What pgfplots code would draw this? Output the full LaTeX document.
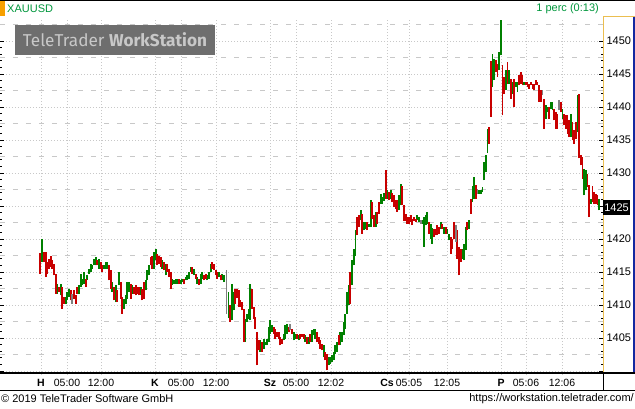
\documentclass[border=0pt]{standalone}
\usepackage{pgfplots}
\pgfplotsset{compat=1.18}
\usepackage{pgfplotstable}
\usepackage{fontspec}
\setmainfont{Liberation Sans}
\newfontfamily\wmfont{Fira Sans}
\definecolor{cgreen}{RGB}{0,128,0}
\definecolor{cred}{RGB}{200,0,0}
\definecolor{cgray}{RGB}{128,128,128}
\definecolor{gridc}{RGB}{200,200,200}
\definecolor{tgreen}{RGB}{0,150,60}
\definecolor{orng}{RGB}{247,160,0}
\definecolor{pyell}{RGB}{235,190,80}
\definecolor{pblue}{RGB}{20,40,160}
\definecolor{wmbox}{RGB}{110,110,110}
\definecolor{wmtext}{RGB}{200,200,200}

\pgfplotstableread{
x lo hi
41.7 1416.52 1419.95
57.3 1411.71 1413.23
60.7 1411.46 1413.23
65.7 1410.2 1411.21
67.3 1410.7 1411.97
69.0 1411.21 1412.47
79.0 1411.71 1413.0
80.7 1412.73 1414.75
82.3 1413.0 1414.0
84.0 1413.23 1415.0
87.3 1413.74 1414.5
89.0 1414.75 1415.5
90.7 1415.0 1416.26
92.3 1415.5 1416.0
94.0 1416.0 1417.0
95.7 1416.0 1417.27
99.0 1415.5 1417.0
104.0 1415.5 1416.0
105.7 1415.5 1416.52
107.3 1415.5 1416.52
112.3 1411.97 1413.48
115.7 1410.45 1413.0
119.0 1413.0 1415.0
124.0 1409.44 1410.95
125.7 1410.2 1411.46
127.3 1410.95 1413.48
129.0 1411.97 1413.48
132.3 1411.71 1413.0
140.7 1411.46 1412.73
145.7 1412.22 1413.74
147.3 1413.74 1415.25
149.0 1414.5 1416.0
154.0 1415.5 1418.03
155.7 1416.77 1418.5
162.3 1415.5 1416.77
165.7 1414.5 1416.26
172.3 1413.0 1414.0
174.0 1413.23 1413.74
175.7 1413.23 1414.0
177.3 1413.23 1414.0
180.7 1413.23 1413.74
182.3 1413.48 1414.0
185.7 1413.74 1414.24
187.3 1413.74 1414.5
189.0 1414.0 1415.0
190.7 1415.0 1415.76
194.0 1414.5 1415.5
197.3 1413.23 1414.24
200.7 1413.23 1414.75
202.3 1414.0 1415.0
207.3 1413.74 1414.5
209.0 1414.0 1415.0
210.7 1415.0 1416.26
219.0 1414.24 1415.0
222.3 1413.74 1414.75
224.0 1413.48 1414.5
228.5 1408.0 1412.0
232.0 1407.68 1413.23
233.7 1409.2 1411.97
245.3 1404.39 1407.93
247.0 1407.4 1408.7
248.7 1407.93 1409.44
250.3 1407.68 1413.23
260.3 1402.88 1404.65
263.7 1403.38 1404.9
265.3 1403.88 1404.39
267.0 1403.88 1404.9
268.7 1404.39 1406.67
270.3 1405.65 1407.68
272.0 1405.91 1406.92
283.7 1404.65 1405.65
285.3 1404.9 1406.92
287.0 1405.65 1407.17
293.7 1404.65 1405.91
295.3 1404.9 1405.65
298.7 1404.65 1405.4
305.3 1404.39 1405.4
308.7 1404.14 1405.15
312.0 1404.39 1406.16
313.7 1405.4 1406.41
315.3 1404.9 1406.41
323.7 1402.12 1403.88
328.7 1400.86 1402.12
330.3 1401.11 1402.12
332.0 1401.36 1402.37
333.7 1401.62 1402.88
335.3 1402.63 1403.88
337.0 1402.88 1404.39
340.3 1403.88 1405.91
342.0 1404.39 1405.91
343.7 1405.4 1407.42
345.3 1406.41 1408.7
347.0 1408.7 1411.97
348.7 1409.95 1413.0
352.0 1413.0 1416.77
353.7 1416.0 1418.53
355.5 1417.5 1421.3
360.7 1422.83 1424.34
364.0 1421.31 1422.58
365.7 1421.56 1422.58
369.0 1421.82 1422.32
370.7 1421.8 1425.9
375.7 1421.8 1424.1
380.7 1425.35 1426.87
382.3 1425.35 1426.4
384.0 1425.8 1426.9
387.3 1426.1 1427.4
390.7 1426.1 1427.4
399.0 1424.34 1426.62
400.7 1425.1 1428.38
417.3 1422.83 1423.59
419.0 1422.58 1423.33
422.3 1422.32 1422.83
424.0 1418.8 1423.33
425.7 1422.07 1423.59
427.3 1422.32 1424.09
430.7 1420.05 1422.3
432.3 1419.3 1421.6
440.7 1421.56 1422.58
444.0 1420.8 1421.82
447.3 1420.8 1421.56
449.0 1419.8 1420.8
462.3 1417.0 1418.5
464.0 1416.77 1419.29
465.7 1418.3 1421.8
469.0 1421.56 1422.83
472.5 1425.6 1428.1
474.2 1426.11 1429.39
479.2 1426.87 1427.37
480.8 1426.87 1427.37
482.5 1427.1 1427.88
484.2 1428.9 1431.67
485.8 1430.15 1432.68
487.5 1433.0 1436.7
492.5 1443.03 1448.08
494.2 1444.04 1447.32
499.2 1445.55 1448.33
500.8 1447.83 1453.2
505.8 1442.53 1445.55
509.2 1443.53 1445.55
512.5 1442.02 1443.79
515.8 1443.03 1443.79
517.5 1442.27 1443.79
524.2 1443.28 1443.79
545.8 1438.23 1440.25
547.5 1439.24 1440.0
550.8 1439.75 1440.76
552.5 1439.5 1440.76
562.5 1438.23 1439.75
570.8 1435.45 1438.99
577.5 1436.2 1441.77
584.2 1426.62 1430.65
585.8 1427.37 1430.4
590.8 1425.35 1426.11
599.2 1424.34 1426.11
}\tgreen

\pgfplotstableread{
x lo hi
40.0 1414.75 1417.9
44.0 1416.52 1418.03
45.7 1414.24 1418.03
47.3 1414.75 1416.52
49.0 1415.5 1417.0
50.7 1415.76 1417.5
52.3 1415.5 1416.77
54.0 1414.5 1416.26
55.7 1411.71 1414.75
59.0 1411.97 1412.73
62.3 1409.44 1412.73
64.0 1410.2 1411.21
70.7 1410.7 1412.22
74.0 1410.95 1412.22
75.7 1410.2 1411.46
77.3 1411.71 1412.73
85.7 1412.73 1414.0
97.3 1416.0 1416.77
100.7 1415.5 1416.52
102.3 1415.0 1416.0
109.0 1413.74 1416.0
110.7 1412.47 1415.25
114.0 1410.7 1412.73
117.3 1410.45 1412.22
120.7 1410.95 1413.48
122.3 1408.7 1411.21
130.7 1410.95 1413.23
134.0 1411.71 1412.73
135.7 1411.46 1413.0
137.3 1411.71 1412.73
139.0 1411.46 1412.73
142.3 1410.7 1412.47
144.0 1410.95 1413.48
150.7 1416.0 1417.27
152.3 1415.5 1417.5
157.3 1416.0 1417.78
159.0 1416.26 1417.5
160.7 1415.76 1417.27
164.0 1415.25 1416.52
167.3 1415.0 1416.26
169.0 1414.24 1415.5
170.7 1412.47 1415.0
179.0 1413.23 1414.0
184.0 1413.23 1414.0
192.3 1414.75 1415.76
195.7 1414.0 1414.75
199.0 1413.0 1414.0
204.0 1413.74 1414.5
205.7 1414.0 1414.75
212.3 1415.5 1416.52
214.0 1415.25 1416.26
215.7 1414.5 1415.25
217.3 1414.0 1415.0
220.7 1413.74 1414.5
230.0 1407.5 1410.0
235.3 1410.2 1412.47
237.0 1411.0 1412.47
238.7 1409.7 1412.22
240.3 1409.7 1410.7
242.0 1409.2 1410.45
243.7 1404.39 1409.44
252.0 1409.44 1412.47
253.7 1407.93 1409.7
255.3 1406.41 1408.18
257.0 1400.86 1405.91
258.7 1403.13 1404.65
262.0 1402.88 1404.39
273.7 1405.65 1406.67
275.3 1404.9 1406.41
277.0 1405.15 1405.91
278.7 1404.9 1405.91
280.3 1403.88 1405.15
282.0 1404.14 1404.9
288.7 1405.91 1406.67
292.0 1405.65 1406.41
297.0 1404.9 1405.65
300.3 1404.9 1405.65
302.0 1405.15 1405.65
303.7 1404.9 1405.65
307.0 1404.14 1405.15
310.3 1404.39 1405.65
317.0 1404.39 1405.91
318.7 1404.14 1405.15
320.3 1403.38 1404.65
322.0 1403.13 1404.14
325.3 1401.62 1402.88
327.0 1400.1 1402.63
338.7 1403.88 1405.4
350.3 1410.2 1415.0
357.3 1420.55 1423.33
359.0 1421.8 1423.59
362.3 1420.8 1423.84
367.3 1421.31 1422.58
372.3 1423.1 1425.6
374.0 1421.8 1423.6
377.3 1422.3 1424.1
379.0 1423.8 1425.6
385.7 1426.1 1430.4
389.0 1425.9 1427.1
392.3 1425.6 1426.9
394.0 1424.85 1426.6
395.7 1424.6 1425.86
397.3 1424.1 1425.86
402.3 1425.1 1428.1
404.0 1422.8 1425.1
405.7 1422.8 1423.84
407.3 1422.3 1423.3
409.0 1422.3 1423.3
410.7 1422.58 1423.59
412.3 1422.07 1423.08
414.0 1422.8 1423.3
415.7 1422.58 1423.08
429.0 1420.8 1422.58
434.0 1420.3 1421.56
435.7 1420.55 1421.56
437.3 1420.55 1422.07
439.0 1420.8 1421.8
442.3 1421.56 1422.3
445.7 1420.8 1421.82
450.7 1417.78 1420.3
452.3 1418.5 1420.0
454.0 1420.05 1422.58
457.3 1417.0 1421.31
459.0 1414.5 1418.79
460.7 1416.5 1418.5
467.3 1421.3 1422.58
470.8 1423.84 1426.11
475.8 1426.11 1428.13
489.2 1434.44 1436.97
490.8 1438.5 1447.0
495.8 1445.3 1447.07
497.5 1444.55 1446.56
502.5 1438.74 1446.31
504.2 1442.02 1444.55
507.5 1443.53 1446.82
510.8 1441.26 1444.29
514.2 1440.0 1444.29
519.2 1443.28 1444.8
520.8 1443.53 1445.3
522.5 1443.28 1444.8
525.8 1443.28 1443.79
527.5 1443.03 1443.79
529.2 1442.78 1443.53
530.8 1443.28 1443.79
532.5 1442.78 1443.53
534.2 1442.53 1443.53
535.8 1443.28 1444.04
537.5 1443.28 1443.79
539.2 1440.76 1443.28
540.8 1440.76 1442.53
544.2 1436.71 1441.26
549.2 1438.23 1440.0
554.2 1437.98 1439.75
555.8 1436.71 1439.24
557.5 1436.71 1438.99
560.8 1439.24 1440.76
564.2 1437.22 1438.99
565.8 1436.71 1438.74
567.5 1435.96 1438.74
569.2 1435.45 1437.98
572.5 1434.95 1437.73
574.2 1434.44 1436.46
575.8 1435.2 1437.73
579.2 1432.2 1442.0
580.8 1431.16 1432.68
582.5 1429.14 1432.42
587.5 1427.88 1429.9
589.2 1423.33 1428.13
592.5 1425.61 1428.0
594.2 1425.35 1427.12
595.8 1425.35 1426.87
597.5 1425.1 1426.62
}\tred

\pgfplotstableread{
x lo hi
72.3 1410.2 1411.71
226.5 1408.7 1415.25
290.3 1406.16 1407.17
420.7 1422.32 1422.83
455.7 1419.55 1422.07
477.5 1426.87 1427.63
542.5 1441.77 1442.53
559.2 1439.5 1441.01
}\tgray

\begin{document}
\begin{tikzpicture}[x=1pt,y=1pt]
\useasboundingbox (0,0) rectangle (635,408);
\begin{axis}[
  at={(0,50)}, anchor=south west,
  scale only axis, width=603pt, height=356pt,
  xmin=0, xmax=603, ymin=1399.394, ymax=1453.333,
  axis line style={draw=none},
  xtick={41,67,101,155,181,216,270,296,331,387,409,447,501,526,562},
  xticklabels={\textbf{H},05:00,12:00,\textbf{K},05:00,12:00,\textbf{Sz},05:00,12:02,\textbf{Cs},05:05,12:05,\textbf{P},05:06,12:06},
  x tick style={draw=none},
  xticklabel style={font=\fontsize{10.5}{12}\selectfont, yshift=-0.5pt},
  ytick={1400,1405,...,1450},
  yticklabels={,1405,1410,1415,1420,,1430,1435,1440,1445,1450},
  yticklabel pos=right,
  yticklabel style={font=\fontsize{11}{12}\selectfont, anchor=west, xshift=0pt},
  minor y tick num=4,
  tick align=inside,
  major tick length=4pt, minor tick length=2.5pt,
  y tick style={black, line width=0.8pt},
  xmajorgrids, ymajorgrids,
  major grid style={gridc, line width=0.8pt, dash pattern=on 1pt off 2pt},
  extra y ticks={1402.5,1407.5,1412.5,1417.5,1422.5,1427.5,1432.5,1437.5,1442.5,1447.5,1452.5},
  extra y tick labels={},
  extra y tick style={major tick length=0pt, major grid style={gridc, line width=0.8pt, dash pattern=on 5pt off 8pt}},
  clip=true,
]
\addplot[draw=none, mark=none, forget plot,
  error bars/.cd, y dir=plus, y explicit,
  error bar style={line width=1.8pt, draw=cgreen}, error mark=none]
  table[x=x, y=lo, y error expr=\thisrow{hi}-\thisrow{lo}] {\tgreen};
\addplot[draw=none, mark=none, forget plot,
  error bars/.cd, y dir=plus, y explicit,
  error bar style={line width=1.8pt, draw=cred}, error mark=none]
  table[x=x, y=lo, y error expr=\thisrow{hi}-\thisrow{lo}] {\tred};
\addplot[draw=none, mark=none, forget plot,
  error bars/.cd, y dir=plus, y explicit,
  error bar style={line width=1.8pt, draw=cgray}, error mark=none]
  table[x=x, y=lo, y error expr=\thisrow{hi}-\thisrow{lo}] {\tgray};
\end{axis}
% frame and decorations
\draw[black, line width=1.5pt] (0,407.25) -- (635,407.25);
\fill[orng] (0,392) rectangle (5,407);
\node[anchor=west, inner sep=0, text=tgreen, font=\fontsize{11}{12}\selectfont] at (7,399) {XAUUSD};
\node[anchor=east, inner sep=0, text=tgreen, font=\fontsize{11}{12}\selectfont] at (599,399) {1 perc (0:13)};
% watermark
\fill[wmbox] (15,353) rectangle (215,383);
\node[inner sep=0, text=wmtext] at (115,368) {\resizebox{184pt}{!}{\wmfont TeleTrader \textbf{WorkStation}}};
% right panel
\draw[pyell, line width=1pt] (603.5,36) -- (603.5,391) -- (635,391);
\draw[pblue, line width=1.5pt] (633.75,36) -- (633.75,391);
% bottom label row
\draw[black, line width=1.5pt] (0,35) -- (635,35);
\draw[black, line width=1pt] (0,18) -- (635,18);
\draw[black, line width=1pt] (603,18) -- (603,35);
% last price box
\fill[black] (603,193) rectangle (630,208);
\node[inner sep=0, text=white, font=\fontsize{11}{12}\selectfont] at (616.5,200.5) {1425};
% footer
\node[anchor=west, inner sep=0, font=\fontsize{11}{12}\selectfont] at (1,9) {\textcopyright{} 2019 TeleTrader Software GmbH};
\node[anchor=east, inner sep=0, font=\fontsize{11}{12}\selectfont] at (634,9) {https://workstation.teletrader.com/};
\end{tikzpicture}
\end{document}
